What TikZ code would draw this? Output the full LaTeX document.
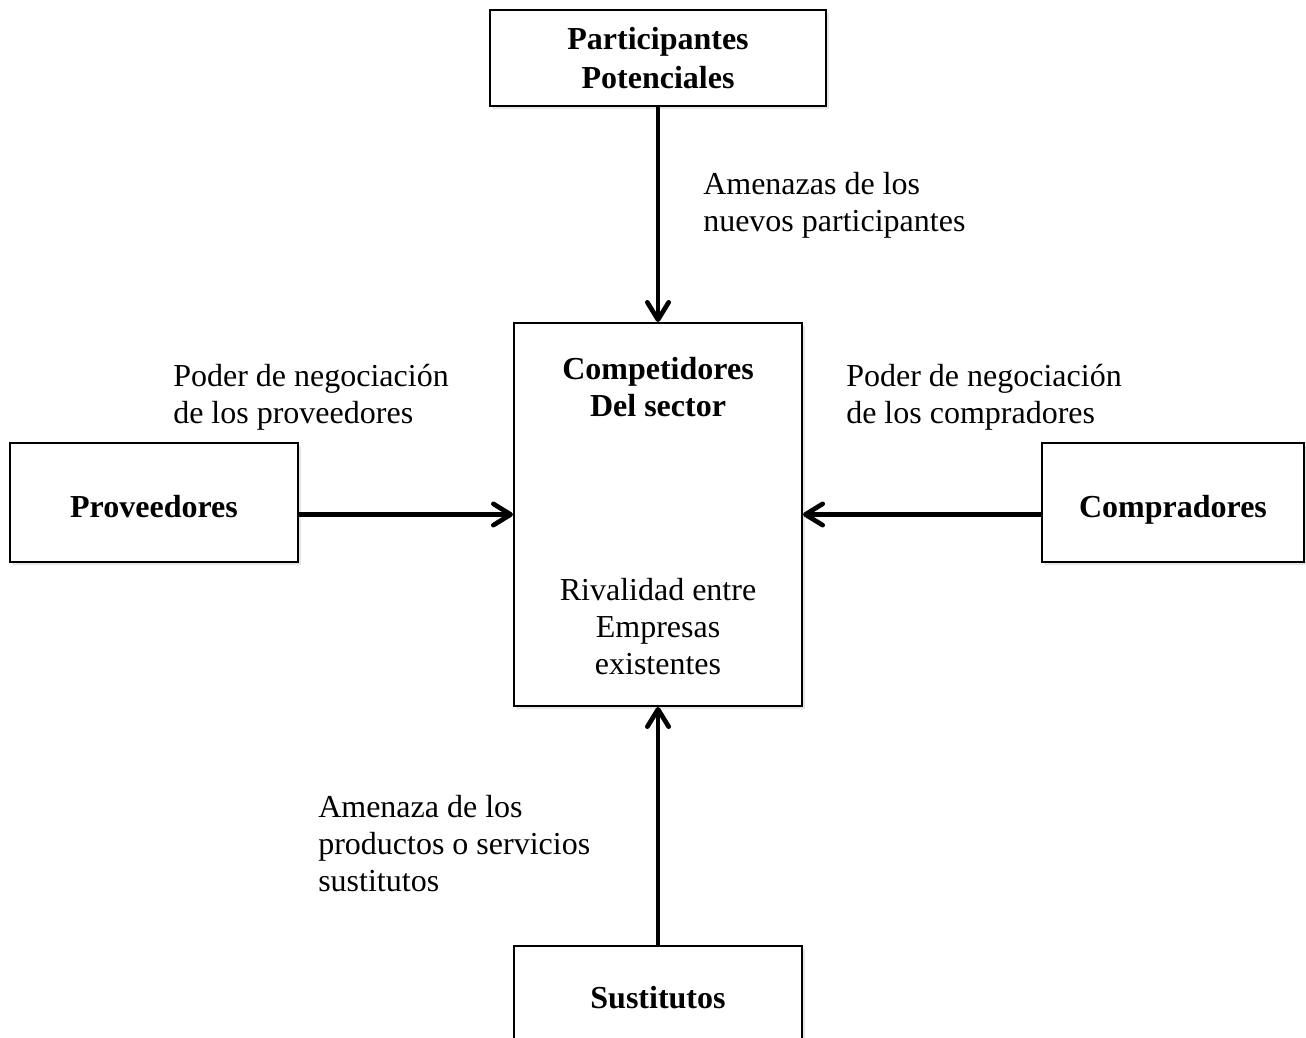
\documentclass[tikz,border=0pt]{standalone}
\usepackage{fontspec}
\setmainfont{Liberation Serif}
\usetikzlibrary{arrows.meta,shadows}

\tikzset{
  caja/.style={draw, line width=1.5pt, fill=white, font=\bfseries\fontsize{24}{27.75}\selectfont,
    align=center, drop shadow={opacity=0.2, shadow xshift=2.5pt, shadow yshift=-2.5pt}},
  unalinea/.style={text height=22pt, text depth=0pt},
  texto/.style={inner sep=0pt, align=left, anchor=west, font=\fontsize{24}{27.75}\selectfont},
  fuerza/.style={line width=3.5pt, -{Straight Barb[length=13pt, width=16pt, round]}}
}

\begin{document}
\begin{tikzpicture}[x=0.75pt,y=0.75pt,yscale=-1,xscale=1]
\clip (0,0) rectangle (1306,1038);

% Boxes
\node [caja, minimum width=252pt, minimum height=72pt] (part) at (658,58) {Participantes\\[1.5pt]Potenciales};
\node [caja, minimum width=216pt, minimum height=287.25pt] (sector) at (658,514.5) {};
\node [caja, unalinea, minimum width=216pt, minimum height=89.25pt] (prov) at (154,502.5) {Proveedores};
\node [caja, unalinea, minimum width=196.5pt, minimum height=89.25pt] (compr) at (1173,502.5) {Compradores};
\node [caja, unalinea, minimum width=216pt, minimum height=72pt] (sust) at (658,994) {Sustitutos};

% Text inside the central box
\node [inner sep=0pt, align=center, font=\bfseries\fontsize{24}{27.75}\selectfont] (titulo) at (658,387) {Competidores\\Del sector};
\node [inner sep=0pt, align=center, font=\fontsize{24}{27.75}\selectfont] (rival) at (658,627) {Rivalidad entre\\Empresas\\existentes};

% Labels
\node [texto] (lblpart) at (703,205) {Amenazas de los\\nuevos participantes};
\node [texto] (lblprov) at (173,397.5) {Poder de negociación\\de los proveedores};
\node [texto] (lblcompr) at (846,397.5) {Poder de negociación\\de los compradores};
\node [texto] (lblsust) at (318,844) {Amenaza de los\\productos o servicios\\sustitutos};

% Arrows
\draw [fuerza] (part.south) -- (sector.north);
\draw [fuerza] (prov.east |- sector.west) -- (sector.west);
\draw [fuerza] (compr.west |- sector.east) -- (sector.east);
\draw [fuerza] (sust.north) -- (sector.south);

\end{tikzpicture}
\end{document}
